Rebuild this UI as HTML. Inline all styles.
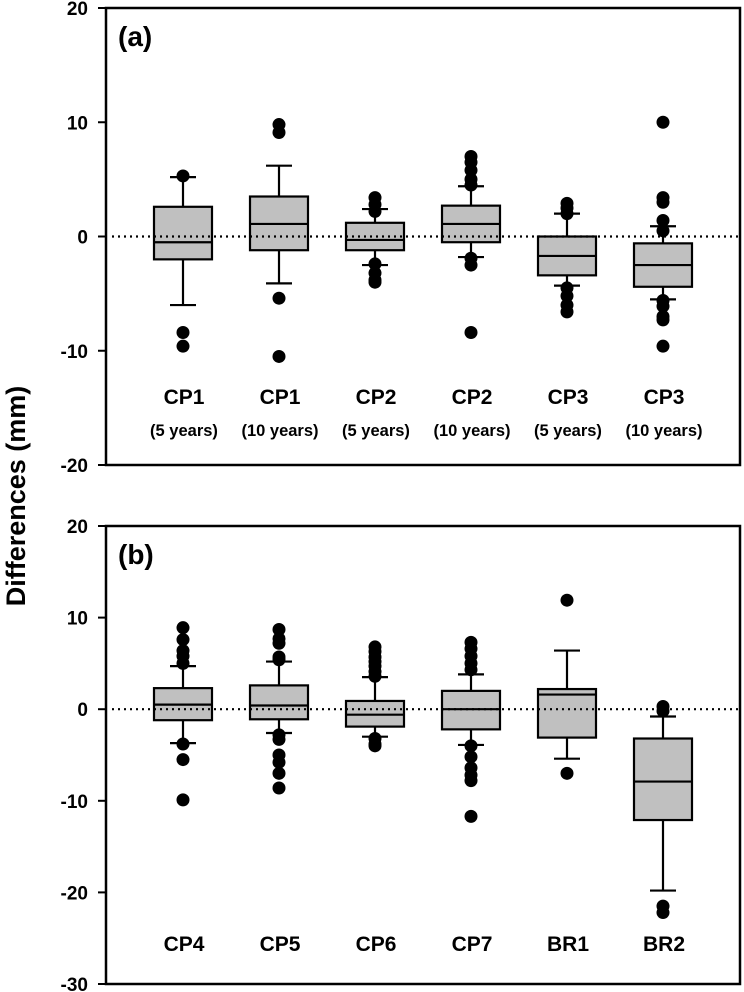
<!DOCTYPE html>
<html><head><meta charset="utf-8"><style>
html,body{margin:0;padding:0;background:#fff;}
svg{display:block;font-family:"Liberation Sans",Arial,sans-serif;font-weight:bold;}
</style></head><body>
<svg id="chart" width="744" height="992"></svg>
<script>
const catsA = ["CP1","CP1","CP2","CP2","CP3","CP3"];
const subA = ["(5 years)","(10 years)","(5 years)","(10 years)","(5 years)","(10 years)"];
const q1A = [-2,-1.2,-1.2,-0.5,-3.4,-4.4];
const medA = [-0.5,1.1,-0.3,1.1,-1.7,-2.5];
const q3A = [2.6,3.5,1.2,2.7,0,-0.6];
const wloA = [-6,-4.1,-2.5,-1.8,-4.3,-5.5];
const whiA = [5.2,6.2,2.4,4.4,2.0,0.9];
const outA = [[5.3,-8.4,-9.6],[9.8,9.1,-5.4,-10.5],[3.4,2.8,2.2,-2.4,-3.2,-3.8,-4.0],[7.0,6.5,5.8,5.0,4.5,-1.9,-2.5,-8.4],[2.9,2.5,2.0,-4.5,-5.2,-6.0,-6.6],[10.0,3.4,3.0,1.4,0.5,-5.6,-6.1,-7.0,-7.3,-9.6]];
const ticksA = [20,10,0,-10,-20];

const catsB = ["CP4","CP5","CP6","CP7","BR1","BR2"];
const q1B = [-1.2,-1.1,-1.9,-2.2,-3.1,-12.1];
const medB = [0.5,0.4,-0.6,0,1.6,-7.9];
const q3B = [2.3,2.6,0.9,2.0,2.2,-3.2];
const wloB = [-3.7,-2.6,-3.0,-3.9,-5.4,-19.8];
const whiB = [4.7,5.2,3.5,3.8,6.4,-0.8];
const outB = [[8.9,7.6,6.4,5.8,5.0,-3.8,-5.5,-9.9],[8.7,7.7,7.2,5.7,5.4,-2.8,-3.3,-5.0,-5.8,-7.0,-8.6],[6.8,6.3,5.7,5.2,4.7,4.1,3.6,-3.2,-3.8,-4.0],[7.3,6.6,5.8,5.0,4.3,-4.0,-5.2,-6.4,-7.2,-7.8,-11.7],[11.9,-7.0],[0.3,-0.2,-21.5,-22.2]];
const ticksB = [20,10,0,-10,-20,-30];

const NS="http://www.w3.org/2000/svg";
const svg=document.getElementById('chart');
function mk(tag,attrs,parent,text){const e=document.createElementNS(NS,tag);for(const k in attrs)e.setAttribute(k,attrs[k]);if(text!==undefined)e.textContent=text;(parent||svg).appendChild(e);return e;}

function panel(p){
  const g=mk('g',{});
  
  
  const y=v=>p.y0+(p.vmax-v)/(p.vmax-p.vmin)*(p.y1-p.y0);
  const x=i=>183+i*96;
  const fr=mk('rect',{x:106,y:p.y0,width:634,height:p.y1-p.y0,fill:'none',stroke:'#000','stroke-width':2.5},g);
  
  
  p.ticks.forEach(t=>{
    const tk=mk('line',{x1:98,x2:106,y1:y(t),y2:y(t),stroke:'#000','stroke-width':2},g);
    
    
    const tl=mk('text',{x:88,y:y(t)+7,'text-anchor':'end','font-size':19},g,String(t));
    
    
  });
  const pl=mk('text',{x:118,y:p.y0+38,'font-size':28},g,p.label);
  
  
  p.cats.forEach((c,i)=>{
    const cx=x(i);
    const bg=mk('g',{},g);
    
    
    mk('line',{x1:cx,x2:cx,y1:y(p.whi[i]),y2:y(p.q3[i]),stroke:'#000','stroke-width':2.2},bg);
    mk('line',{x1:cx,x2:cx,y1:y(p.q1[i]),y2:y(p.wlo[i]),stroke:'#000','stroke-width':2.2},bg);
    mk('line',{x1:cx-13,x2:cx+13,y1:y(p.whi[i]),y2:y(p.whi[i]),stroke:'#000','stroke-width':2.2},bg);
    mk('line',{x1:cx-13,x2:cx+13,y1:y(p.wlo[i]),y2:y(p.wlo[i]),stroke:'#000','stroke-width':2.2},bg);
    mk('rect',{x:cx-29,y:y(p.q3[i]),width:58,height:y(p.q1[i])-y(p.q3[i]),fill:'#c0c0c0',stroke:'#000','stroke-width':2.2},bg);
    mk('line',{x1:cx-29,x2:cx+29,y1:y(p.med[i]),y2:y(p.med[i]),stroke:'#000','stroke-width':2.2},bg);
    p.out[i].forEach(v=>{
      const d=mk('circle',{cx:cx,cy:y(v),r:6.5,fill:'#000'},bg);
      
      
    });
    const cl=mk('text',{x:cx+1,y:p.labY,'text-anchor':'middle','font-size':21},g,c);
    
    
    if(p.sub){
      const sl=mk('text',{x:cx+1,y:p.labY+32,'text-anchor':'middle','font-size':16.5},g,p.sub[i]);
      
      
    }
  });
  const zl=mk('line',{x1:112,x2:740,y1:y(0),y2:y(0),stroke:'#000','stroke-width':2.2,'stroke-dasharray':'2,4'},g);
  
  
}
panel({name:'panel-a',label:'(a)',y0:8,y1:465,vmax:20,vmin:-20,ticks:ticksA,cats:catsA,sub:subA,q1:q1A,med:medA,q3:q3A,wlo:wloA,whi:whiA,out:outA,labY:404});
panel({name:'panel-b',label:'(b)',y0:526,y1:984,vmax:20,vmin:-30,ticks:ticksB,cats:catsB,sub:null,q1:q1B,med:medB,q3:q3B,wlo:wloB,whi:whiB,out:outB,labY:951});
const yt=mk('text',{x:0,y:0,'text-anchor':'middle','font-size':27,transform:'translate(25,496) rotate(-90)'},svg,'Differences (mm)');


</script>
</body></html>
